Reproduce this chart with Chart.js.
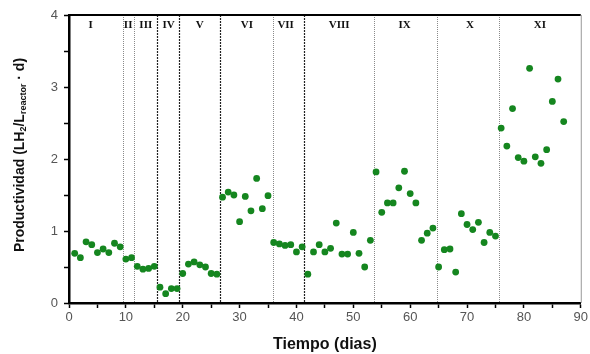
<!DOCTYPE html>
<html>
<head>
<meta charset="utf-8">
<script src="https://cdn.jsdelivr.net/npm/chart.js@4.4.1/dist/chart.umd.min.js"></script>
<style>
html,body{margin:0;padding:0;background:#fff;}
#wrap{width:590px;height:354px;position:relative;}
</style>
</head>
<body>
<div id="wrap"><canvas id="c" width="590" height="354"></canvas></div>
<script>
// ---- data ----
const days = [1,2,3,4,5,6,7,8,9,10,11,12,13,14,15,16,17,18,19,20,21,22,23,24,25,26,27,28,29,30,31,32,33,34,35,36,37,38,39,40,41,42,43,44,45,46,47,48,49,50,51,52,53,54,55,56,57,58,59,60,61,62,63,64,65,66,67,68,69,70,71,72,73,74,75,76,77,78,79,80,81,82,83,84,85,86,87];
const productividad = [0.69,0.63,0.85,0.81,0.70,0.75,0.70,0.83,0.78,0.61,0.63,0.51,0.47,0.48,0.51,0.22,0.13,0.20,0.20,0.41,0.54,0.57,0.53,0.50,0.41,0.40,
  1.47,1.54,1.50,1.13,1.48,1.28,1.73,1.31,1.49,
  0.84,0.82,0.80,0.81,0.71,0.78,
  0.40,0.71,0.81,0.71,0.76,1.11,0.68,0.68,0.98,0.69,0.50,0.87,
  1.82,1.26,1.39,1.39,1.60,1.83,1.52,1.39,0.87,0.97,1.04,
  0.50,0.74,0.75,0.43,1.24,1.09,1.02,1.12,0.84,0.98,0.93,
  2.43,2.18,2.70,2.02,1.97,3.26,2.03,1.94,2.13,2.80,3.11,2.52];
const phaseBounds = [9.56,11.5,15.5,19.4,26.6,35.9,41.4,53.6,64.7,75.6];
const phaseBoundDark = [false,false,true,true,true,false,true,false,false,false];
const phaseLabels = ['I','II','III','IV','V','VI','VII','VIII','IX','X','XI'];
const phaseLabelDays = [3.8,10.4,13.5,17.5,23.0,31.3,38.1,47.5,59.0,70.5,82.8];
const xTickLabels = [0,10,20,30,40,50,60,70,80,90];
const yTickLabels = [0,1,2,3,4];

const points = days.map((d,i)=>({x:d,y:productividad[i]}));

const phasePlugin = {
  id:'phases',
  beforeDatasetsDraw(chart){
    const ctx = chart.ctx, xs = chart.scales.x, a = chart.chartArea;
    ctx.save();
    phaseBounds.forEach((b,i)=>{
      const px = Math.round(xs.getPixelForValue(b))+0.5;
      ctx.beginPath();
      if(phaseBoundDark[i]){ctx.strokeStyle='#222';ctx.setLineDash([2,1]);ctx.lineWidth=1.2;}
      else {ctx.strokeStyle='#8a8a8a';ctx.setLineDash([1,1]);ctx.lineWidth=1;}
      ctx.moveTo(px,a.top);ctx.lineTo(px,a.bottom);ctx.stroke();
    });
    ctx.setLineDash([]);
    ctx.fillStyle='#111';
    ctx.font='bold 11px "Liberation Serif", "Times New Roman", serif';
    ctx.textAlign='center';ctx.textBaseline='middle';
    phaseLabels.forEach((l,i)=>{
      ctx.fillText(l, xs.getPixelForValue(phaseLabelDays[i]), a.top+10);
    });
    ctx.restore();
  },
  afterDraw(chart){
    const ctx = chart.ctx, a = chart.chartArea;
    ctx.save();
    ctx.strokeStyle='#000';ctx.lineWidth=2;
    ctx.beginPath();ctx.moveTo(a.left-1,a.top);ctx.lineTo(a.right,a.top);ctx.stroke();
    ctx.strokeStyle='#999';ctx.lineWidth=1;
    ctx.beginPath();ctx.moveTo(a.right+0.5,a.top);ctx.lineTo(a.right+0.5,a.bottom);ctx.stroke();
    // y axis title with subscripts
    const parts=[['Productividad (LH',14,0],['2',9,4],['/L',14,0],['reactor',9,4],[' \u00B7 d)',14,0]];
    let w=0;
    parts.forEach(p=>{ctx.font='bold '+p[1]+'px "Liberation Sans", Arial, sans-serif';w+=ctx.measureText(p[0]).width;});
    const cy=(a.top+a.bottom)/2 - 4;
    ctx.translate(20,cy);ctx.rotate(-Math.PI/2);
    ctx.fillStyle='#111';ctx.textBaseline='middle';ctx.textAlign='left';
    let x=-w/2;
    parts.forEach(p=>{ctx.font='bold '+p[1]+'px "Liberation Sans", Arial, sans-serif';ctx.fillText(p[0],x,p[2]);x+=ctx.measureText(p[0]).width;});
    ctx.restore();
  }
};

new Chart(document.getElementById('c'),{
  type:'scatter',
  data:{datasets:[{data:points,backgroundColor:'#15861f',borderColor:'#15861f',borderWidth:0,pointRadius:3.4,pointHoverRadius:3.4}]},
  options:{
    responsive:false,animation:false,
    plugins:{legend:{display:false},tooltip:{enabled:false}},
    layout:{padding:{left:0,right:6,top:15,bottom:0}},
    scales:{
      x:{type:'linear',min:0,max:90,
        afterFit(s){s.height=51;},
        afterBuildTicks(s){const t=[];for(let v=0;v<=90;v+=5)t.push({value:v});s.ticks=t;},
        ticks:{autoSkip:false,maxRotation:0,padding:2,color:'#555',font:{size:13,family:'"Liberation Sans", Arial, sans-serif'},
          callback:(v)=> xTickLabels.includes(v)?String(v):''},
        grid:{display:true,drawOnChartArea:false,drawTicks:true,tickLength:5,tickColor:'#000',tickWidth:1.5},
        border:{display:true,color:'#000',width:2.5},
        title:{display:true,text:'Tiempo (dias)',color:'#111',font:{size:16,weight:'bold',family:'"Liberation Sans", Arial, sans-serif'},padding:{top:0,bottom:0}}
      },
      y:{type:'linear',min:0,max:4,
        afterFit(s){s.width=69;},
        afterBuildTicks(s){const t=[];for(let v=0;v<=4;v+=0.5)t.push({value:v});s.ticks=t;},
        ticks:{autoSkip:false,padding:6,color:'#555',font:{size:13,family:'"Liberation Sans", Arial, sans-serif'},
          callback:(v)=> yTickLabels.includes(v)?String(v):''},
        grid:{display:true,drawOnChartArea:false,drawTicks:true,tickLength:5,tickColor:'#000',tickWidth:1.5},
        border:{display:true,color:'#000',width:2.5}
      }
    }
  },
  plugins:[phasePlugin]
});
</script>
</body>
</html>
